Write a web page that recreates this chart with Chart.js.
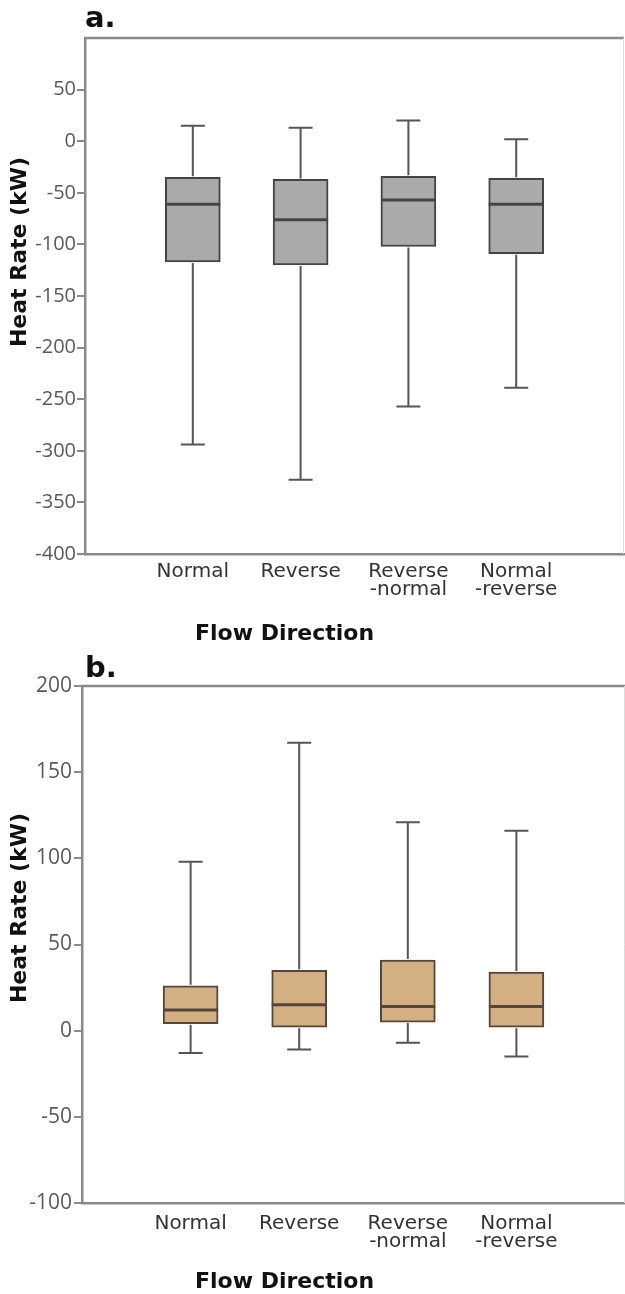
<!DOCTYPE html>
<html>
<head>
<meta charset="utf-8">
<script src="https://cdn.jsdelivr.net/npm/chart.js@4/dist/chart.umd.min.js"></script>
<style>
  html, body { margin: 0; padding: 0; background: #fff; overflow: hidden; }
  canvas { display: block; }
</style>
</head>
<body>
<canvas id="chart-a" width="625" height="645"></canvas>
<canvas id="chart-b" width="625" height="649"></canvas>
<script>
// empty slots at both ends keep the four groups evenly spaced across the frame
const categories = ["", "Normal", "Reverse", ["Reverse", "-normal"], ["Normal", "-reverse"], ""];

// panel a: heat rate (kW), five-number summaries per flow direction
const aMin = [null, -294, -328, -257, -239, null];
const aQ1 = [null, -117, -120, -102, -109, null];
const aMedian = [null, -61, -76, -57, -61, null];
const aQ3 = [null, -35, -37, -34, -36, null];
const aMax = [null, 15, 13, 20, 2, null];

// panel b
const bMin = [null, -13, -11, -7, -15, null];
const bQ1 = [null, 4, 2, 5, 2, null];
const bMedian = [null, 12, 15, 14, 14, null];
const bQ3 = [null, 26, 35, 41, 34, null];
const bMax = [null, 98, 167, 121, 116, null];

const tickFont = "'Open Sans', sans-serif";
const labelFont = "'DejaVu Sans', Verdana, sans-serif";

// whiskers, caps and median bars drawn on top of the floating-bar boxes
const boxPlotPlugin = {
  id: "boxPlot",
  afterDatasetsDraw(chart, args, opts) {
    const { ctx, scales: { x, y } } = chart;
    ctx.save();
    opts.median.forEach((med, i) => {
      if (med === null) return;
      const cx = x.getPixelForValue(i);
      const half = opts.boxWidth / 2;
      const capHalf = opts.capWidth / 2;
      const yMin = y.getPixelForValue(opts.min[i]);
      const yQ1 = y.getPixelForValue(opts.q1[i]);
      const yQ3 = y.getPixelForValue(opts.q3[i]);
      const yMax = y.getPixelForValue(opts.max[i]);
      const yMed = y.getPixelForValue(med);

      ctx.strokeStyle = opts.whiskerColor;
      ctx.lineWidth = 2;
      ctx.beginPath();
      ctx.moveTo(cx, yQ3 - 1);
      ctx.lineTo(cx, yMax);
      ctx.moveTo(cx - capHalf, yMax);
      ctx.lineTo(cx + capHalf, yMax);
      ctx.moveTo(cx, yQ1 + 1);
      ctx.lineTo(cx, yMin);
      ctx.moveTo(cx - capHalf, yMin);
      ctx.lineTo(cx + capHalf, yMin);
      ctx.stroke();

      ctx.strokeStyle = opts.medianColor;
      ctx.lineWidth = 3;
      ctx.beginPath();
      ctx.moveTo(cx - half, yMed);
      ctx.lineTo(cx + half, yMed);
      ctx.stroke();
    });
    ctx.restore();
  },
};

// frame lines, panel letter and axis titles
const decorPlugin = {
  id: "decor",
  afterDraw(chart, args, opts) {
    const { ctx, chartArea: { left, top, right, bottom } } = chart;
    ctx.save();
    ctx.strokeStyle = "#8a8a8a";
    ctx.lineWidth = 2.5;
    ctx.beginPath();
    ctx.moveTo(left - 1, top);
    ctx.lineTo(right, top);
    ctx.stroke();
    ctx.strokeStyle = "#dcdcdc";
    ctx.lineWidth = 1;
    ctx.beginPath();
    ctx.moveTo(right - 0.5, top);
    ctx.lineTo(right - 0.5, bottom);
    ctx.stroke();

    ctx.fillStyle = "#111";
    ctx.font = "bold 29px " + labelFont;
    ctx.textAlign = "left";
    ctx.textBaseline = "alphabetic";
    ctx.fillText(opts.letter, 85, opts.letterBaseline);

    ctx.font = "bold 22px " + labelFont;
    ctx.textBaseline = "middle";
    ctx.fillText("Flow Direction", 195, opts.xTitleY);

    ctx.translate(20, opts.yTitleY);
    ctx.rotate(-Math.PI / 2);
    ctx.textAlign = "center";
    ctx.font = "bold 22px " + labelFont;
    ctx.fillText("Heat Rate (kW)", 0, 0);
    ctx.restore();
  },
};

const renderBoxChart = ({
  canvasId, min, q1, median, q3, max, fill, edge, yMin, yMax, hideTop,
  yWidth, tickSize, tickPad, xPad, padTop, padRight, letter, letterBaseline, xTitleY, yTitleY,
}) =>
  new Chart(document.getElementById(canvasId), {
    type: "bar",
    data: {
      labels: categories,
      datasets: [
        {
          data: q1.map((v, i) => (v === null ? null : [v, q3[i]])),
          backgroundColor: fill,
          borderColor: edge,
          borderWidth: 2,
          borderSkipped: false,
          barThickness: 55,
        },
      ],
    },
    options: {
      responsive: false,
      animation: false,
      layout: { padding: { top: padTop, right: padRight, left: 0, bottom: 0 } },
      scales: {
        x: {
          offset: false,
          grid: { display: false, drawTicks: false },
          border: { display: true, color: "#8a8a8a", width: 2.5 },
          ticks: {
            color: "#333",
            padding: xPad,
            autoSkip: false,
            maxRotation: 0,
            font: { family: labelFont, size: 20, lineHeight: 0.88 },
          },
          afterFit: (scale) => {
            scale.height = 91;
            scale.paddingLeft = 0;
            scale.paddingRight = 0;
          },
        },
        y: {
          min: yMin,
          max: yMax,
          grid: {
            display: true,
            drawOnChartArea: false,
            drawTicks: true,
            tickLength: 8,
            color: "#8a8a8a",
            lineWidth: 2,
          },
          border: { display: true, color: "#8a8a8a", width: 2.5 },
          ticks: {
            stepSize: 50,
            color: "#5a5a5a",
            padding: tickPad,
            font: { family: tickFont, size: tickSize },
          },
          afterBuildTicks: (scale) => {
            if (hideTop) scale.ticks = scale.ticks.filter((t) => t.value < yMax);
          },
          afterFit: (scale) => { scale.width = yWidth; },
        },
      },
      plugins: {
        legend: { display: false },
        tooltip: { enabled: false },
        boxPlot: {
          min, q1, median, q3, max,
          boxWidth: 55,
          capWidth: 24,
          whiskerColor: "#555",
          medianColor: edge,
        },
        decor: { letter, letterBaseline, xTitleY, yTitleY },
      },
    },
    plugins: [boxPlotPlugin, decorPlugin],
  });

renderBoxChart({
  canvasId: "chart-a",
  min: aMin, q1: aQ1, median: aMedian, q3: aQ3, max: aMax,
  fill: "#aaaaaa", edge: "#444444",
  yMin: -400, yMax: 100, hideTop: true,
  yWidth: 85, tickSize: 20, tickPad: 1, xPad: 9, padTop: 38, padRight: 1,
  letter: "a.", letterBaseline: 27, xTitleY: 634, yTitleY: 252,
});

renderBoxChart({
  canvasId: "chart-b",
  min: bMin, q1: bQ1, median: bMedian, q3: bQ3, max: bMax,
  fill: "#d5af84", edge: "#54473a",
  yMin: -100, yMax: 200, hideTop: false,
  yWidth: 82, tickSize: 21, tickPad: 2, xPad: 12, padTop: 41, padRight: 0,
  letter: "b.", letterBaseline: 32, xTitleY: 637, yTitleY: 263,
});
</script>
</body>
</html>
